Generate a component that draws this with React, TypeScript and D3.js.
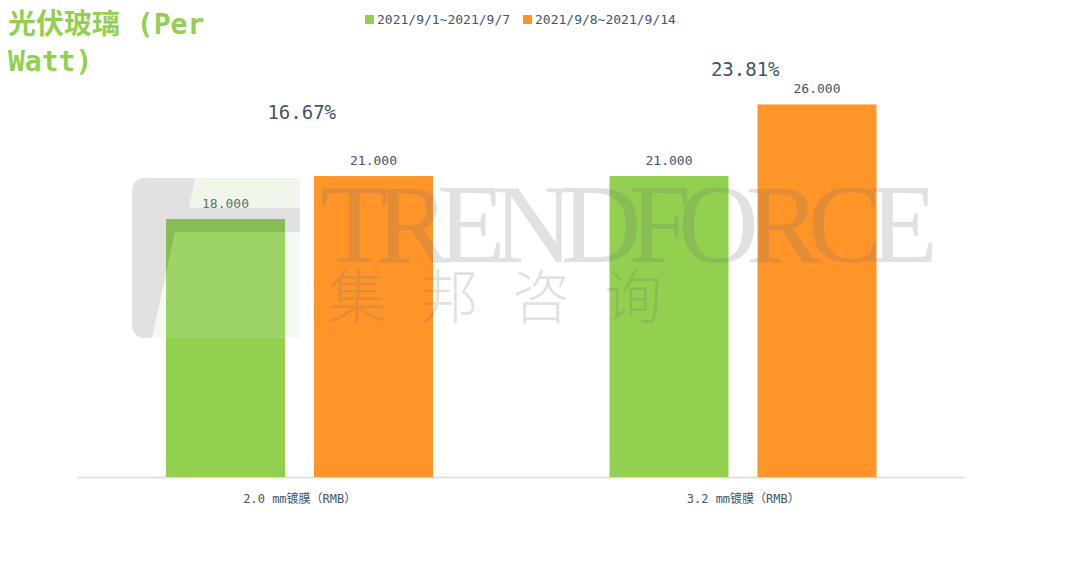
import React, { useEffect, useRef } from "react";
import { select, scaleBand, scaleLinear } from "d3";

const categories = ["2.0 mm镀膜（RMB）", "3.2 mm镀膜（RMB）"];
const seriesNames = ["2021/9/1~2021/9/7", "2021/9/8~2021/9/14"];
const week1 = [18, 21];
const week2 = [21, 26];
const changeLabels = ["16.67%", "23.81%"];
// height (in value units) where each change label sits
const changeAnchor = [25.5, 28.5];
const colors = ["#92D050", "#FF9429"];

const W = 1080;
const H = 562;

function App() {
  const svgRef = useRef<SVGSVGElement>(null);

  useEffect(() => {
    const svg = select(svgRef.current);
    svg.selectAll("*").remove();

    const left = 78;
    const right = 965;
    const base = 477;

    const x = scaleBand().domain(categories).range([left, right]);
    const inner = scaleBand().domain(["a", "b"]).range([88, 88 + 267]).paddingInner(0.196);
    const y = scaleLinear().domain([0, 30]).range([base, base - 14.33 * 30]);

    const mono = "'DejaVu Sans Mono', 'Noto Sans CJK SC', monospace";
    const textColor = "#44546A";

    // axis line
    svg.append("line").attr("x1", left).attr("x2", right).attr("y1", base + 0.5).attr("y2", base + 0.5)
      .attr("stroke", "#D9D9D9").attr("stroke-width", 1.5);

    [week1, week2].forEach((vals, si) => {
      vals.forEach((v, i) => {
        const bx = (x(categories[i]) || 0) + (inner(si === 0 ? "a" : "b") || 0);
        svg.append("rect").attr("x", bx).attr("y", y(v)).attr("width", inner.bandwidth())
          .attr("height", base - y(v)).attr("fill", colors[si]);
        svg.append("text").attr("x", bx + inner.bandwidth() / 2).attr("y", y(v) - 11)
          .attr("text-anchor", "middle").attr("font-family", mono).attr("font-size", 13)
          .attr("fill", textColor).text(v.toFixed(3));
      });
    });

    // watermark, drawn over the bars
    const wm = svg.append("g").attr("opacity", 0.2).attr("pointer-events", "none");
    wm.append("path").attr("d", "M146 178 L300 178 L300 324 Q300 338 286 338 L146 338 Q132 338 132 324 L132 192 Q132 178 146 178 Z")
      .attr("fill", "#6f6f6f");
    wm.append("path").attr("d", "M195 178 L300 178 L300 208 L189 208 Z").attr("fill", "#b8d99a");
    wm.append("path").attr("d", "M175 232 L300 232 L300 338 L152 338 Z").attr("fill", "#cfe8b8");
    wm.append("text").attr("x", 320).attr("y", 262).attr("font-family", "'Liberation Serif', serif").attr("font-size", 112)
      .attr("fill", "#6f6f6f").attr("textLength", 618).text("TRENDFORCE");
    wm.append("text").attr("x", 328).attr("y", 318).attr("font-family", "'Noto Sans CJK SC', sans-serif").attr("font-size", 58)
      .attr("font-weight", 300).attr("fill", "#6f6f6f").attr("letter-spacing", 34).text("集邦咨询");

    changeLabels.forEach((t, i) => {
      svg.append("text").attr("x", (x(categories[i]) || 0) + x.bandwidth() / 2 + 2).attr("y", y(changeAnchor[i]) + 7)
        .attr("text-anchor", "middle").attr("font-family", mono).attr("font-size", 19)
        .attr("fill", textColor).text(t);
    });

    categories.forEach((c) => {
      svg.append("text").attr("x", (x(c) || 0) + x.bandwidth() / 2).attr("y", base + 26)
        .attr("text-anchor", "middle").attr("font-family", mono).attr("font-size", 12)
        .attr("fill", textColor).text(c);
    });

    // legend
    const legendX = [365, 523];
    seriesNames.forEach((s, i) => {
      svg.append("rect").attr("x", legendX[i]).attr("y", 15).attr("width", 9).attr("height", 9).attr("fill", colors[i]);
      svg.append("text").attr("x", legendX[i] + 12).attr("y", 24).attr("font-family", mono).attr("font-size", 13)
        .attr("fill", textColor).text(s);
    });

    // title
    const title = svg.append("text").attr("font-family", mono).attr("font-size", 28).attr("font-weight", "bold").attr("fill", "#92D050");
    title.append("tspan").attr("x", 8).attr("y", 34).text("光伏玻璃 (Per");
    title.append("tspan").attr("x", 8).attr("y", 71).text("Watt)");
  }, []);

  return (
    <div style={{ position: "fixed", left: 0, top: 0, background: "#fff" }}>
      <svg ref={svgRef} width={W} height={H} style={{ display: "block" }}></svg>
    </div>
  );
}

export default App;
